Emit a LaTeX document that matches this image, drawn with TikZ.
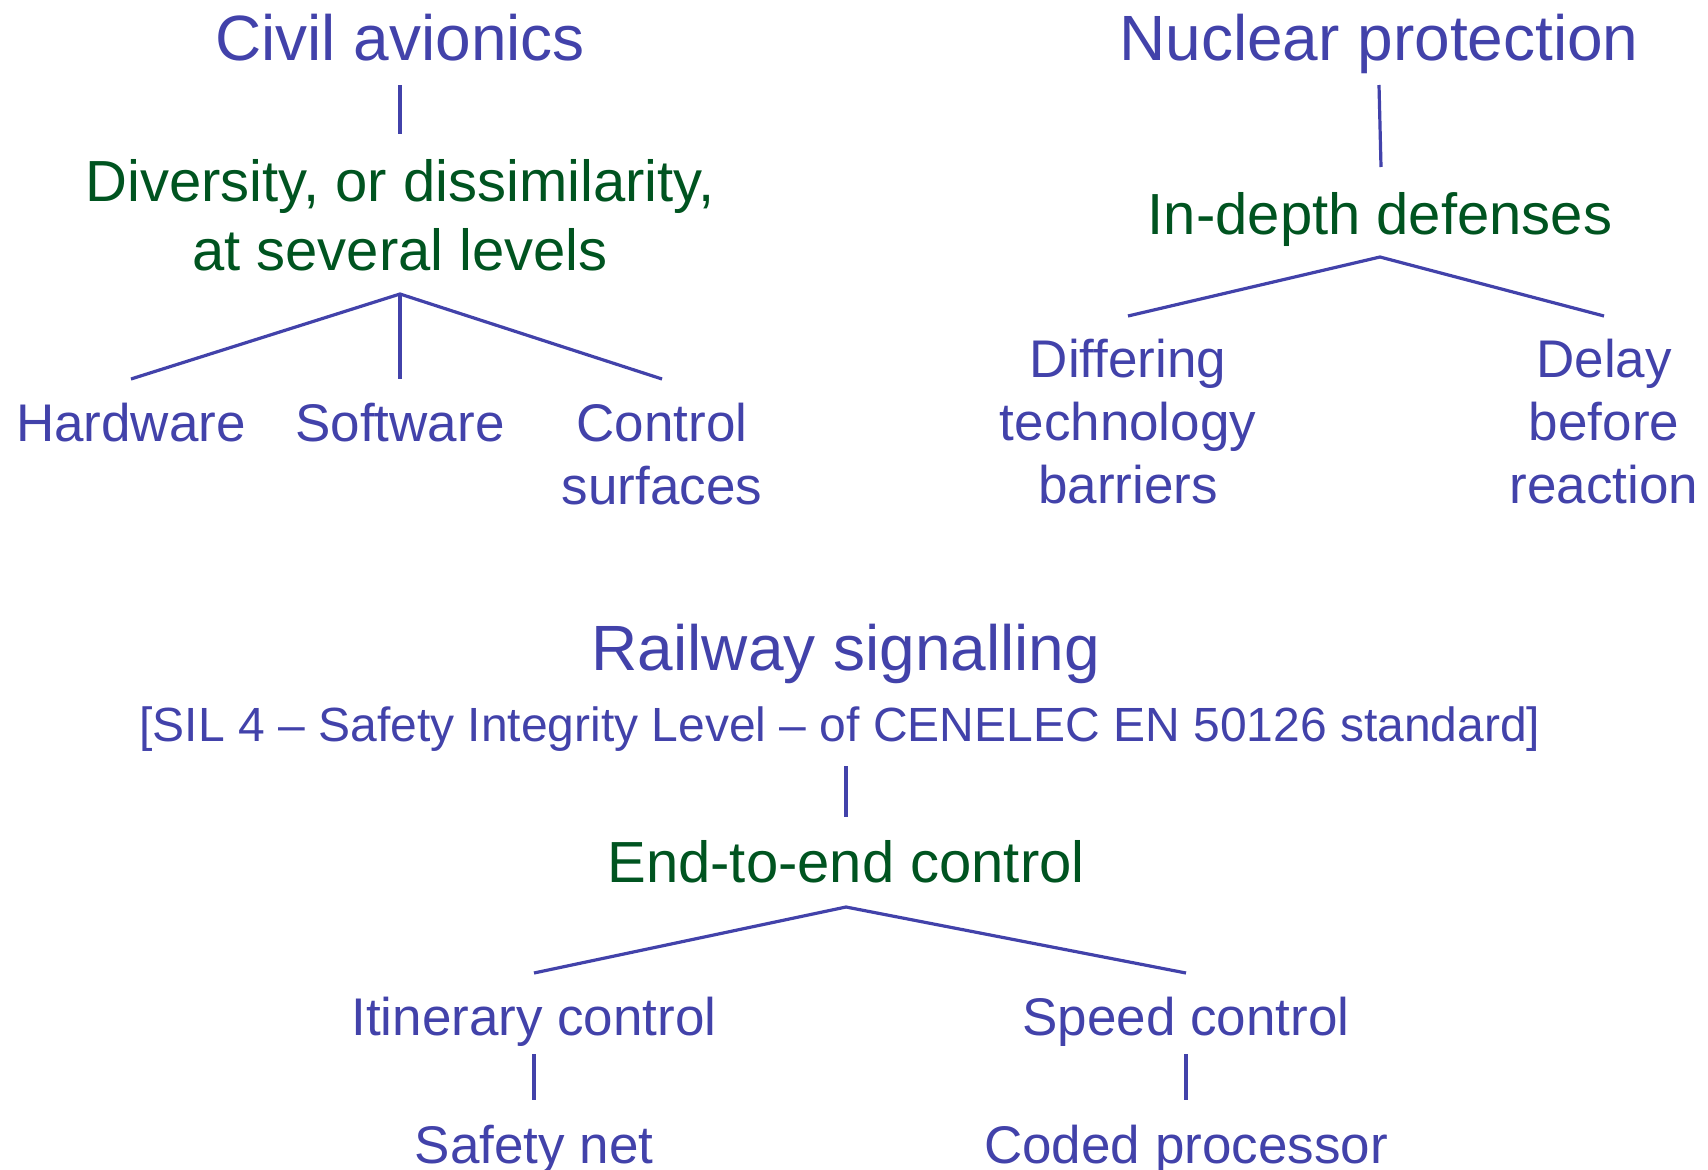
\documentclass[tikz,border=0pt]{standalone}
\usepackage{fontspec}
\setmainfont{Liberation Sans}
\usetikzlibrary{calc}
\definecolor{cblue}{RGB}{66,66,170}
\definecolor{cgreen}{RGB}{0,84,32}
\begin{document}
\begin{tikzpicture}[x=1bp,y=-1bp,
  base/.style={anchor=base,inner sep=0pt,align=center},
  hdr/.style={base,text=cblue,font=\fontsize{64bp}{72bp}\selectfont},
  mid/.style={base,text=cgreen,font=\fontsize{58bp}{68.5bp}\selectfont},
  leaf/.style={base,text=cblue,font=\fontsize{53bp}{63bp}\selectfont},
  note/.style={base,text=cblue,font=\fontsize{48bp}{56bp}\selectfont},
  conn/.style={draw=cblue,line width=3.2bp}]
\useasboundingbox (0,0) rectangle (1708,1169);
% Civil avionics
\node[hdr] (civ) at (400,60) {Civil avionics};
\node[mid] (div) at (400,270) {Diversity, or dissimilarity,\\at several levels};
\node[leaf] (hw) at (131,441) {Hardware};
\node[leaf] (sw) at (400,441) {Software};
\node[leaf] (cs) at (662,504) {Control\\surfaces};
\coordinate (divT) at ([yshift=-24bp]div.base);
\draw[conn] ([yshift=-25bp]civ.base) -- ([yshift=136bp]div.base);
\draw[conn] ([yshift=62bp]hw.base) -- (divT) -- ([yshift=125bp]cs.base);
\draw[conn] (divT) -- ([yshift=62bp]sw.base);
% Nuclear protection
\node[hdr] (nuc) at (1379,60) {Nuclear protection};
\node[mid] (ind) at (1380,234) {In-depth defenses};
\node[leaf] (dif) at (1128,503) {Differing\\technology\\barriers};
\node[leaf] (del) at (1604,503) {Delay\\before\\reaction};
\coordinate (indT) at ([yshift=-23bp]ind.base);
\draw[conn] ([yshift=-25bp]nuc.base) -- ([xshift=1bp,yshift=67bp]ind.base);
\draw[conn] ([yshift=187bp]dif.base) -- (indT) -- ([yshift=187bp]del.base);
% Railway signalling
\node[hdr] (rail) at (846,670) {Railway signalling};
\node[note] (sil) at (840,741) {[SIL 4 -- Safety Integrity Level -- of CENELEC EN 50126 standard]};
\node[mid] (e2e) at (846,882) {End-to-end control};
\node[leaf] (itc) at (534,1035) {Itinerary control};
\node[leaf] (spd) at (1186,1035) {Speed control};
\node[leaf] (sn) at (534,1163) {Safety net};
\node[leaf] (cp) at (1186,1163) {Coded processor};
\coordinate (silB) at ([yshift=-25bp]sil.base);
\coordinate (e2eT) at ([yshift=-25bp]e2e.base);
\draw[conn] (silB -| e2e) -- ([yshift=65bp]e2e.base);
\draw[conn] ([yshift=62bp]itc.base) -- (e2eT) -- ([yshift=62bp]spd.base);
\draw[conn] ([yshift=-19bp]itc.base) -- ([yshift=63bp]sn.base);
\draw[conn] ([yshift=-19bp]spd.base) -- ([yshift=63bp]cp.base);
\end{tikzpicture}
\end{document}
